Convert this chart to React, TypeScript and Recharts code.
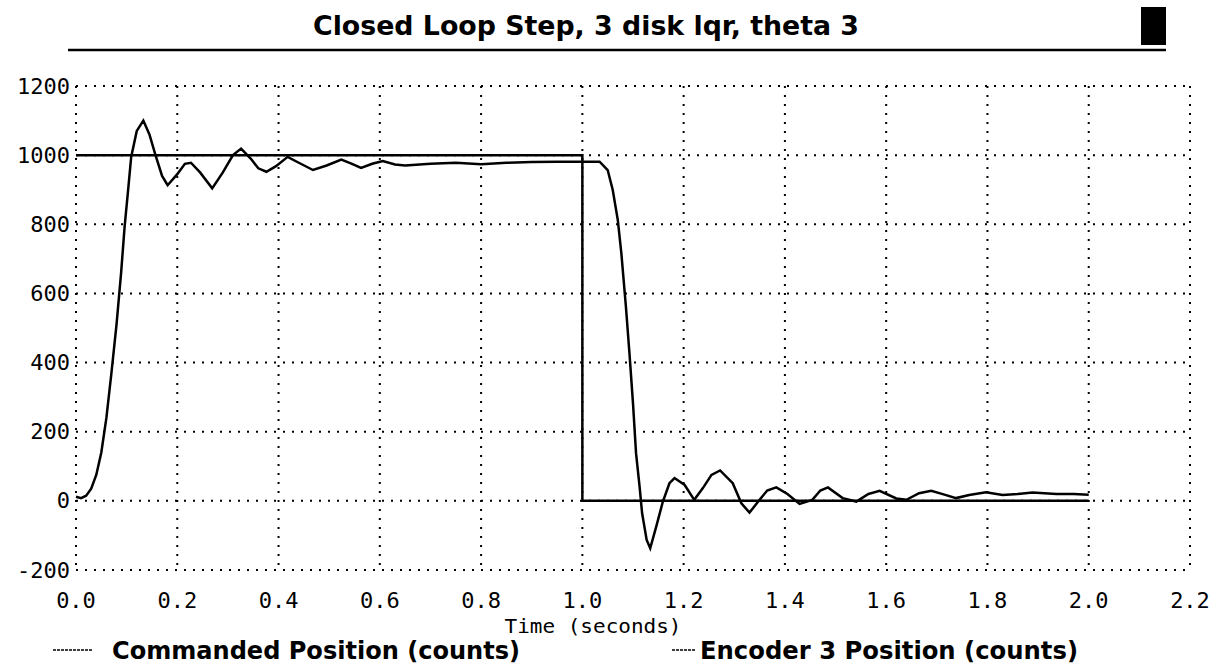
import React from 'react';
import { LineChart, Line, XAxis, YAxis, CartesianGrid } from 'recharts';

const chartTitle = 'Closed Loop Step, 3 disk lqr, theta 3';
const xLabel = 'Time (seconds)';
const seriesNames = ['Commanded Position (counts)', 'Encoder 3 Position (counts)'];

const xTicks = [0, 0.2, 0.4, 0.6, 0.8, 1.0, 1.2, 1.4, 1.6, 1.8, 2.0, 2.2];
const yTicks = [-200, 0, 200, 400, 600, 800, 1000, 1200];

// commanded step: up at 0, down at 1.0
const commandTime = [0, 1.0, 1.0, 2.0];
const commandPos = [1000, 1000, 0, 0];

// encoder 3 response
const encoderTime = [
  0, 0.01, 0.02, 0.03, 0.04, 0.05, 0.06, 0.07, 0.08, 0.089, 0.096, 0.103, 0.109, 0.12, 0.133,
  0.145, 0.157, 0.17, 0.181, 0.2, 0.215, 0.227, 0.245, 0.269, 0.29, 0.31, 0.326, 0.345, 0.36,
  0.376, 0.395, 0.418, 0.44, 0.468, 0.495, 0.524, 0.545, 0.563, 0.585, 0.606, 0.63, 0.65, 0.7,
  0.75, 0.8, 0.85, 0.9, 0.95, 1.0, 1.034, 1.05, 1.06, 1.07, 1.077, 1.086, 1.093, 1.1, 1.106,
  1.113, 1.118, 1.127, 1.134, 1.146, 1.159, 1.172, 1.182, 1.202, 1.221, 1.238, 1.255, 1.272,
  1.297, 1.314, 1.33, 1.35, 1.365, 1.383, 1.405, 1.429, 1.454, 1.47, 1.485, 1.514, 1.541, 1.565,
  1.587, 1.62, 1.64, 1.665, 1.689, 1.715, 1.738, 1.764, 1.797, 1.83, 1.86, 1.889, 1.936, 1.97, 2.0,
];
const encoderPos = [
  12, 8, 15, 35, 75, 140, 240, 370, 510, 658, 793, 900, 995, 1070, 1100,
  1060, 1000, 940, 913, 945, 975, 978, 950, 904, 950, 1000, 1019, 990, 962,
  952, 968, 995, 978, 957, 970, 987, 975, 963, 975, 983, 973, 970, 975,
  978, 974, 978, 980, 981, 981, 981, 957, 899, 812, 716, 562, 427, 282, 138,
  41, -36, -113, -137, -74, -2, 51, 66, 46, 3, 37, 75, 88,
  51, -7, -34, 3, 30, 39, 20, -9, 3, 30, 39, 8, -2, 20,
  29, 7, 3, 22, 29, 18, 8, 17, 25, 17, 20, 24, 20, 20, 18,
];

const commandData = commandTime.map((t, i) => ({ t, v: commandPos[i] }));
const encoderData = encoderTime.map((t, i) => ({ t, v: encoderPos[i] }));

const tickFont = '"DejaVu Sans Mono", monospace';
const boldFont = '"Liberation Sans Narrow", "DejaVu Sans Condensed", sans-serif';

const YTick = (props: any) => (
  <text x={props.x} y={props.y} textAnchor="end" dominantBaseline="central"
    fontFamily={tickFont} fontSize={22} fill="#000">
    {props.payload.value}
  </text>
);

const XTick = (props: any) => (
  <text x={props.x} y={props.y + 30} textAnchor="middle" dominantBaseline="central"
    fontFamily={tickFont} fontSize={22} fill="#000">
    {props.payload.value.toFixed(1)}
  </text>
);

export default function App() {
  return (
    <div style={{ position: 'absolute', left: 0, top: 0, width: 1216, height: 667, background: '#fff' }}>
      <LineChart width={1216} height={667} margin={{ top: 86, right: 26, bottom: 0, left: 0 }}>
        <CartesianGrid stroke="#000" strokeWidth={2} strokeDasharray="2 7" />
        <XAxis type="number" dataKey="t" domain={[0, 2.2]} ticks={xTicks} height={97}
          axisLine={false} tickLine={false} tickSize={0} tickMargin={0} tick={<XTick />} interval={0} />
        <YAxis type="number" domain={[-200, 1200]} ticks={yTicks} width={76}
          axisLine={false} tickLine={false} tickSize={0} tickMargin={6} tick={<YTick />} interval={0} />
        <Line data={commandData} dataKey="v" type="linear" stroke="#000" strokeWidth={2.5}
          dot={false} isAnimationActive={false} />
        <Line data={encoderData} dataKey="v" type="linear" stroke="#000" strokeWidth={2.5}
          dot={false} isAnimationActive={false} />
      </LineChart>
      <svg width={1216} height={667} style={{ position: 'absolute', left: 0, top: 0, pointerEvents: 'none' }}>
        <text x={586} y={35} textAnchor="middle" fontFamily={boldFont} fontWeight="bold" fontSize={27}
          textLength={546} lengthAdjust="spacingAndGlyphs" fill="#000">{chartTitle}</text>
        <line x1={68} y1={50} x2={1166} y2={50} stroke="#000" strokeWidth={2.5} />
        <rect x={1141} y={7} width={25} height={38} fill="#000" />
        <text x={593} y={633} textAnchor="middle" fontFamily={tickFont} fontSize={19}
          textLength={177} lengthAdjust="spacingAndGlyphs" fill="#000">{xLabel}</text>
        <line x1={53} y1={650} x2={93} y2={650} stroke="#000" strokeWidth={1.5} strokeDasharray="3 1" />
        <text x={112} y={659} fontFamily={boldFont} fontWeight="bold" fontSize={25}
          textLength={408} lengthAdjust="spacingAndGlyphs" fill="#000">{seriesNames[0]}</text>
        <line x1={672} y1={650} x2={695} y2={650} stroke="#000" strokeWidth={1.5} strokeDasharray="3 1" />
        <text x={700} y={659} fontFamily={boldFont} fontWeight="bold" fontSize={25}
          textLength={378} lengthAdjust="spacingAndGlyphs" fill="#000">{seriesNames[1]}</text>
      </svg>
    </div>
  );
}
